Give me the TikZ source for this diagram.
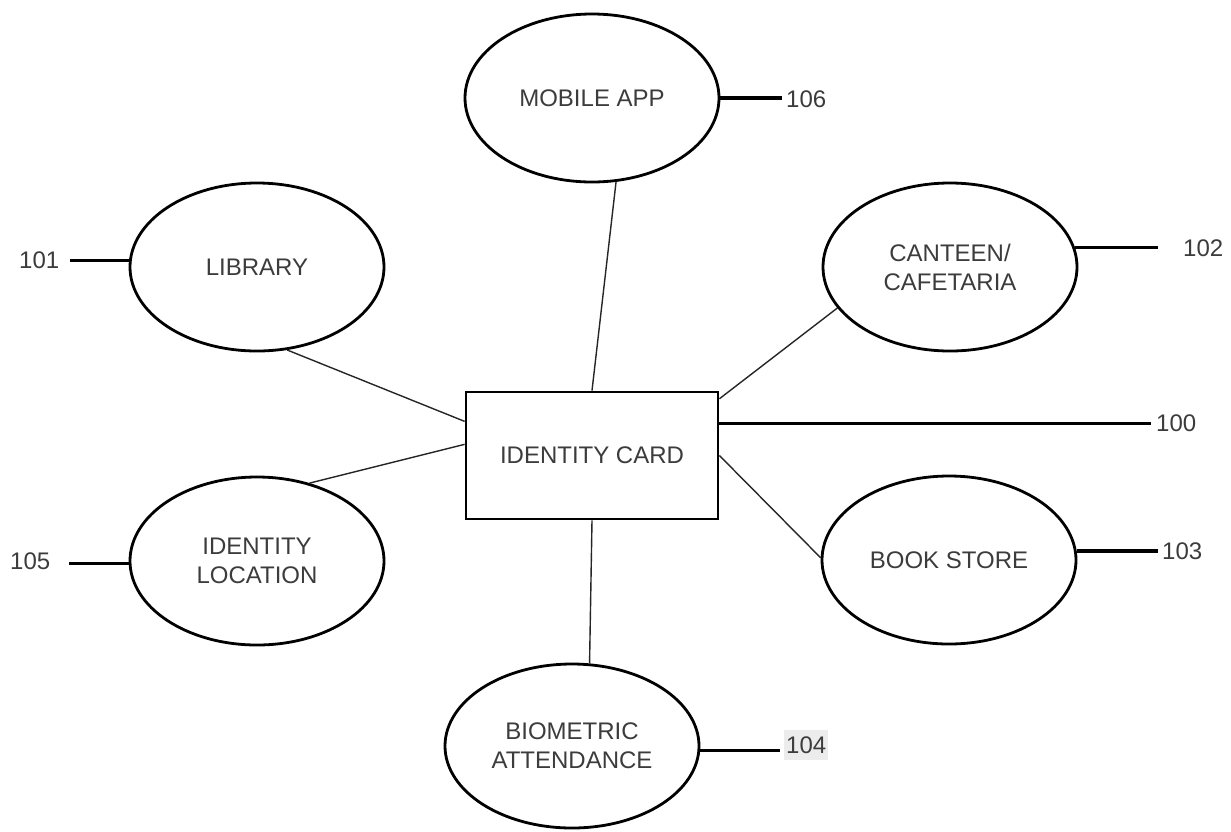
\documentclass[tikz,border=0pt]{standalone}
\usepackage{fontspec}
\setmainfont{Liberation Sans}
\usetikzlibrary{shapes.geometric}
\definecolor{txtgray}{RGB}{60,60,60}
\definecolor{hlgray}{RGB}{236,236,236}
\tikzset{
  bubble/.style={ellipse, draw=black, line width=2.8pt, minimum width=254pt, minimum height=168pt, inner sep=0pt, align=center, text=txtgray, font=\fontsize{24}{29}\selectfont},
  cardbox/.style={rectangle, draw=black, line width=2.8pt, minimum width=252pt, minimum height=127pt, inner sep=0pt, text=txtgray, font=\fontsize{24}{29}\selectfont},
  leader/.style={line width=3.2pt},
  link/.style={line width=1.4pt, draw=black!85},
  reflabel/.style={anchor=west, inner sep=0pt, text=txtgray, font=\fontsize{24}{29}\selectfont}
}
\begin{document}
\begin{tikzpicture}[x=1pt,y=-1pt]
\useasboundingbox[fill=white] (0,0) rectangle (1231,831);

\node[bubble] (mobile) at (592,98) {MOBILE APP};
\node[bubble] (library) at (257,267) {LIBRARY};
\node[bubble] (canteen) at (950,267) {CANTEEN/\\CAFETARIA};
\node[cardbox] (card) at (592,455.5) {IDENTITY CARD};
\node[bubble] (location) at (257,561) {IDENTITY\\LOCATION};
\node[bubble] (bookstore) at (949,560) {BOOK STORE};
\node[bubble, minimum height=164pt] (biometric) at (572,746) {BIOMETRIC\\ATTENDANCE};

% connectors
\draw[link] (mobile.-74.2) -- (card.north);
\draw[link] (library.-70.3) -- (card.165.5);
\draw[link] (canteen.-160.4) -- (card.24.9);
\draw[link] (location.56.5) -- (card.175.7);
\draw[link] (bookstore.179) -- (card.east);
\draw[link] (biometric.78.3) -- (card.south);

% leader line ends
\coordinate (l106) at (782,99);
\coordinate (l101) at (70,261);
\coordinate (l102) at (1158,246);
\coordinate (l100) at (1151,424);
\coordinate (l105) at (69,563);
\coordinate (l103) at (1158,551);
\coordinate (l104) at (780,750);

\draw[leader] (mobile.east) -- (mobile.east -| l106);
\draw[leader] (library.177.3) -- (library.177.3 -| l101);
\draw[leader] (canteen.9.7) -- (canteen.9.7 -| l102);
\draw[leader] (card.14) -- (card.14 -| l100);
\draw[leader] (location.-179) -- (location.-179 -| l105);
\draw[leader] (bookstore.4.1) -- (bookstore.4.1 -| l103);
\draw[leader] (biometric.-2) -- (biometric.-2 -| l104);

% reference numbers
\node[reflabel] (n106) at (786,99) {106};
\node[reflabel] (n101) at (19,260) {101};
\node[reflabel] (n102) at (1183,248) {102};
\node[reflabel] (n100) at (1156,423) {100};
\node[reflabel] (n105) at (10,561) {105};
\node[reflabel] (n103) at (1162,551) {103};
\node[reflabel, fill=hlgray, inner xsep=2pt, minimum height=30pt] (n104) at (784,745) {104};
\end{tikzpicture}
\end{document}
